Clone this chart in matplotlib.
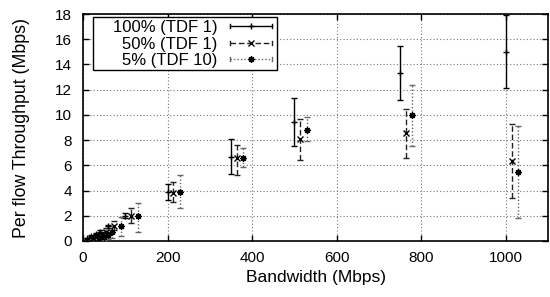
import matplotlib
matplotlib.use("Agg")
import matplotlib.pyplot as plt
from matplotlib.lines import Line2D
from matplotlib.patches import Rectangle
from matplotlib.legend_handler import HandlerBase

plt.rcParams['font.family'] = ['Liberation Sans', 'DejaVu Sans']

bandwidth = [10, 20, 30, 40, 60, 100, 200, 350, 500, 750, 1000]

labels = ["100% (TDF 1)", "50% (TDF 1)", "5% (TDF 10)"]

full_mean = [0.2, 0.4, 0.55, 0.75, 1.15, 2.0, 3.85, 6.7, 9.4, 13.3, 15.0]
full_low  = [0.15, 0.33, 0.48, 0.65, 1.05, 1.8, 3.25, 5.3, 7.5, 11.2, 12.1]
full_high = [0.25, 0.47, 0.62, 0.85, 1.3, 2.2, 4.5, 8.1, 11.3, 15.5, 17.9]

half_mean = [0.2, 0.4, 0.55, 0.75, 1.2, 2.0, 3.8, 6.6, 8.05, 8.55, 6.35]
half_low  = [0.1, 0.25, 0.35, 0.5, 0.85, 1.4, 3.1, 5.2, 6.4, 6.6, 3.4]
half_high = [0.3, 0.55, 0.75, 1.0, 1.6, 2.6, 4.7, 7.6, 9.65, 10.5, 9.3]

five_mean = [0.2, 0.35, 0.5, 0.7, 1.2, 2.0, 3.9, 6.6, 8.8, 10.0, 5.5]
five_low  = [0.05, 0.1, 0.15, 0.25, 0.4, 0.75, 2.6, 5.9, 7.9, 7.55, 1.8]
five_high = [0.35, 0.6, 0.85, 1.2, 1.9, 3.0, 5.2, 7.4, 9.8, 12.4, 9.1]

series = [
    (full_mean, full_low, full_high, 0, 'black', '-', '+'),
    (half_mean, half_low, half_high, 14, '#222222', (0, (4, 2)), 'x'),
    (five_mean, five_low, five_high, 29, '#666666', (0, (1, 1.5)), (8, 2, 0)),
]


class ErrHandler(HandlerBase):
    def create_artists(self, legend, orig_handle, xdescent, ydescent, width,
                       height, fontsize, trans):
        col, ls, mk = orig_handle
        y = height / 2 - ydescent
        x0, x1 = -xdescent, width - xdescent
        c = height * 0.18
        arts = [
            Line2D([x0, x1], [y, y], color=col, linestyle=ls, linewidth=1.0),
            Line2D([x0, x0], [y - c, y + c], color=col, linewidth=1.0),
            Line2D([x1, x1], [y - c, y + c], color=col, linewidth=1.0),
            Line2D([(x0 + x1) / 2], [y], linestyle='none', marker=mk, color='black',
                   markersize=4.5, markeredgewidth=1.0),
        ]
        for a in arts:
            a.set_transform(trans)
        return arts


fig = plt.figure(figsize=(5.5, 2.97), dpi=100)
ax = fig.add_axes([83/550, 1 - 241/297, 465/550, 227/297])

handles = []
for m, lo, hi, off, col, ls, mk in series:
    xs = [b + off for b in bandwidth]
    yerr = [[mv - l for mv, l in zip(m, lo)], [h - mv for mv, h in zip(m, hi)]]
    eb = ax.errorbar(xs, m, yerr=yerr, fmt='none', ecolor=col, elinewidth=1.0,
                     capsize=2.2, capthick=1.0, zorder=3, clip_on=False)
    eb[2][0].set_linestyle(ls)
    ax.plot(xs, m, linestyle='none', marker=mk, color='black', markersize=4.5,
            markeredgewidth=1.0, zorder=4, clip_on=False)
    handles.append((col, ls, mk))

ax.set_xlim(0, 1100)
ax.set_ylim(0, 18)
ax.set_xticks([0, 200, 400, 600, 800, 1000])
ax.set_yticks(range(0, 19, 2))
ax.grid(True, color='#777777', linestyle=(0, (1, 2)), linewidth=0.8)
ax.set_axisbelow(True)
ax.tick_params(direction='in', top=True, right=True, length=4, width=1,
               labelsize=11)
ax.tick_params(axis='x', pad=7)
ax.tick_params(axis='y', pad=8)
for s in ax.spines.values():
    s.set_linewidth(1.2)

ax.set_xlabel("Bandwidth (Mbps)", fontsize=12.5, labelpad=4)
ax.set_ylabel("Per flow Throughput (Mbps)", fontsize=12.8, labelpad=18)

# legend frame
ax.add_patch(Rectangle((0.0215, 0.753), 0.3955, 0.234, transform=ax.transAxes,
                       facecolor='white', edgecolor='black', linewidth=1.0,
                       zorder=9, clip_on=False))
leg = ax.legend(handles, labels, loc='upper right', bbox_to_anchor=(0.409, 0.980),
                markerfirst=False, frameon=False,
                fontsize=12, handlelength=2.5, borderpad=0.1, labelspacing=0.08,
                handletextpad=0.75, borderaxespad=0,
                handler_map={tuple: ErrHandler()})
leg.set_zorder(10)

fig.savefig("out.png", dpi=100)
